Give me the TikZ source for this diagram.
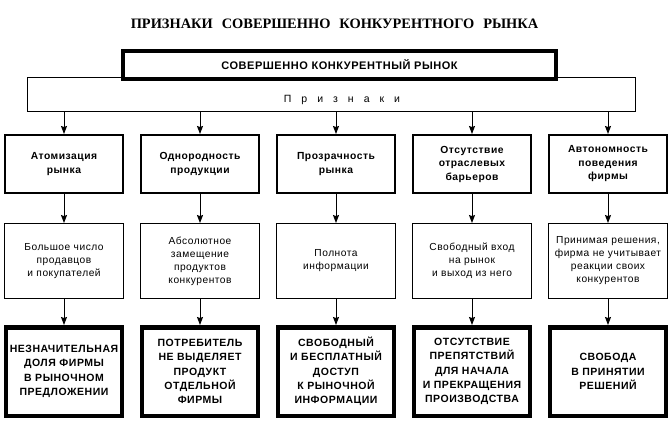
\documentclass[tikz,border=0pt]{standalone}
\usepackage{fontspec}
\setmainfont{Liberation Sans}
\newfontfamily\titlefont{Liberation Serif}
\newfontfamily\sansf[LetterSpace=5]{Liberation Sans}
\usetikzlibrary{arrows.meta}
\begin{document}
\begin{tikzpicture}[x=1pt,y=-1pt,
  hdr/.style={draw, line width=2.4pt, minimum width=117.6pt, minimum height=57.6pt,
    text width=116pt, align=center, inner sep=0pt,
    font=\sansf\bfseries\fontsize{10.3}{13.5}\selectfont},
  desc/.style={draw, line width=0.9pt, minimum width=119pt, minimum height=75pt,
    text width=116pt, align=center, inner sep=0pt,
    font=\sansf\fontsize{10.2}{13}\selectfont},
  res/.style={draw, line width=4.5pt, minimum width=115.5pt, minimum height=88.5pt,
    text width=116pt, align=center, inner sep=0pt,
    font=\sansf\bfseries\fontsize{10.5}{14.3}\selectfont},
  arr/.style={-{Stealth[length=8pt,width=6pt,inset=1pt]}, line width=1pt}]
\useasboundingbox[fill=white] (0,0) rectangle (669,423);

\node[anchor=base, font=\titlefont\bfseries\fontsize{14.4}{17}\selectfont] (title) at (334.5,28)
  {ПРИЗНАКИ\hspace{9pt}СОВЕРШЕННО\hspace{9pt}КОНКУРЕНТНОГО\hspace{9pt}РЫНКА};

\node[draw, line width=0.9pt, minimum width=608pt, minimum height=34pt, inner sep=0pt] (prz) at (331.5,94.5) {};
\node[font=\sansf\fontsize{10.5}{12}\selectfont, anchor=base] (przt) at (342,102)
  {П\hspace{10pt}р\hspace{10pt}и\hspace{10pt}з\hspace{10pt}н\hspace{10pt}а\hspace{10pt}к\hspace{10pt}и};
\node[draw, line width=4pt, fill=white, minimum width=433pt, minimum height=28pt, inner sep=0pt,
  font=\sansf\bfseries\fontsize{11}{12}\selectfont] (top) at (339.5,65)
  {СОВЕРШЕННО КОНКУРЕНТНЫЙ РЫНОК};

\node[hdr] (h1) at (64,164) {Атомизация\\рынка};
\node[hdr] (h2) at (200,164) {Однородность\\продукции};
\node[hdr] (h3) at (336,164) {Прозрачность\\рынка};
\node[hdr] (h4) at (472,164) {Отсутствие\\отраслевых\\барьеров};
\node[hdr] (h5) at (608,164) {Автономность\\поведения\\фирмы};

\node[desc] (d1) at (64,261) {Большое число\\продавцов\\и покупателей};
\node[desc] (d2) at (200,261) {Абсолютное\\замещение\\продуктов\\конкурентов};
\node[desc] (d3) at (336,261) {Полнота\\информации};
\node[desc] (d4) at (472,261) {Свободный вход\\на рынок\\и выход из него};
\node[desc] (d5) at (608,261) {Принимая решения,\\фирма не учитывает\\реакции своих\\конкурентов};

\node[res] (r1) at (64,371.5) {НЕЗНАЧИТЕЛЬНАЯ\\ДОЛЯ ФИРМЫ\\В РЫНОЧНОМ\\ПРЕДЛОЖЕНИИ};
\node[res] (r2) at (200,371.5) {ПОТРЕБИТЕЛЬ\\НЕ ВЫДЕЛЯЕТ\\ПРОДУКТ\\ОТДЕЛЬНОЙ\\ФИРМЫ};
\node[res] (r3) at (336,371.5) {СВОБОДНЫЙ\\И БЕСПЛАТНЫЙ\\ДОСТУП\\К РЫНОЧНОЙ\\ИНФОРМАЦИИ};
\node[res] (r4) at (472,371.5) {ОТСУТСТВИЕ\\ПРЕПЯТСТВИЙ\\ДЛЯ НАЧАЛА\\И ПРЕКРАЩЕНИЯ\\ПРОИЗВОДСТВА};
\node[res] (r5) at (608,371.5) {СВОБОДА\\В ПРИНЯТИИ\\РЕШЕНИЙ};

\foreach \i in {1,...,5} {
  \draw[arr] (prz.south -| h\i.north) -- (h\i.north);
  \draw[arr] (h\i.south) -- (d\i.north);
  \draw[arr] (d\i.south) -- (r\i.north);
}
\end{tikzpicture}
\end{document}
